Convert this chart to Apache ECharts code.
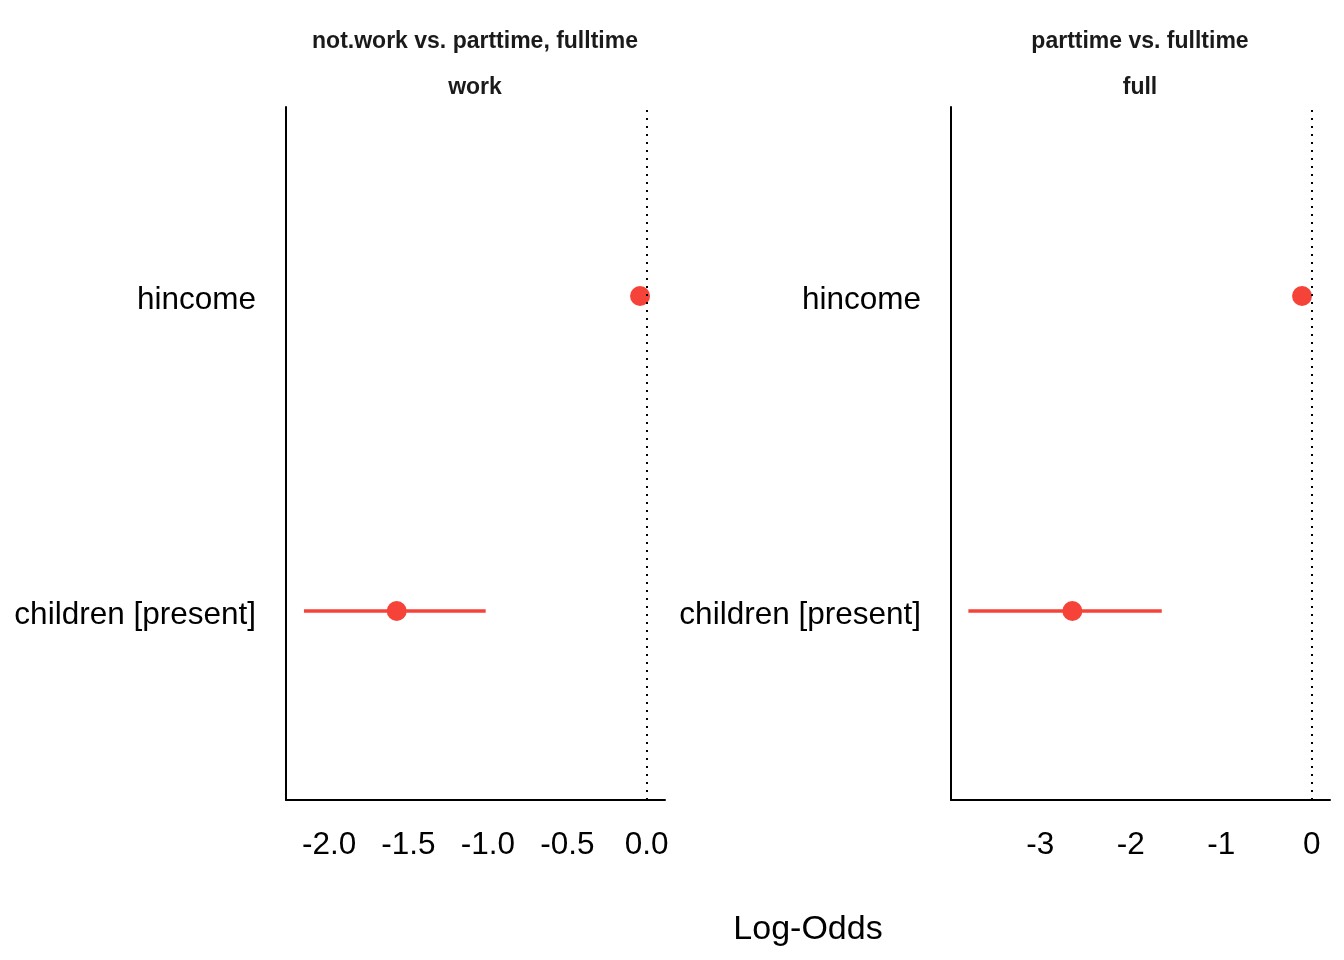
<!DOCTYPE html>
<html>
<head>
<meta charset="utf-8">
<script src="https://cdn.jsdelivr.net/npm/echarts@6/dist/echarts.min.js"></script>
<style>
html,body{margin:0;padding:0;background:#fff;}
#chart{width:1344px;height:960px;}
</style>
</head>
<body>
<div id="chart"></div>
<script>
// terms, bottom to top
var terms = ['children [present]', 'hincome'];
var panelTitles = ['not.work vs. parttime, fulltime', 'parttime vs. fulltime'];
var panelSubs = ['work', 'full'];
// log-odds estimates and 95% CI per panel
var estLeft = [-1.574, -0.042];
var lowLeft = [-2.158, -0.06];
var highLeft = [-1.014, -0.024];
var estRight = [-2.645, -0.107];
var lowRight = [-3.794, -0.13];
var highRight = [-1.657, -0.085];
var ticksLeft = [-2.0, -1.5, -1.0, -0.5, 0.0];
var ticksRight = [-3, -2, -1, 0];

var red = '#F5433A';
var font = 'Liberation Sans, Arial, sans-serif';
var myChart = echarts.init(document.getElementById('chart'));

function ciSeries(idx, low, high){
	return {
		type:'custom',
		xAxisIndex:idx, yAxisIndex:idx,
		data:terms.map(function(t,i){ return [low[i], high[i], i+1]; }),
		renderItem:function(params, api){
			var a = api.coord([api.value(0), api.value(2)]);
			var b = api.coord([api.value(1), api.value(2)]);
			return {type:'line', shape:{x1:a[0], y1:a[1], x2:b[0], y2:b[1]},
				style:{stroke:red, lineWidth:3.5}};
		},
		z:2
	};
}
function pointSeries(idx, est){
	return {
		type:'scatter',
		xAxisIndex:idx, yAxisIndex:idx,
		symbolSize:20,
		itemStyle:{color:red, opacity:1},
		data:terms.map(function(t,i){ return [est[i], i+1]; }),
		markLine:{
			silent:true, symbol:'none', animation:false,
			label:{show:false},
			lineStyle:{color:'#000', type:[2,6], width:2},
			data:[{xAxis:0}]
		},
		z:3
	};
}
function xAxis(idx, min, max, ticks, dec){
	return {
		type:'value', gridIndex:idx, min:min, max:max,
		splitLine:{show:false},
		axisLine:{show:true, onZero:false, lineStyle:{color:'#000', width:2}},
		axisTick:{show:false},
		axisLabel:{customValues:ticks, margin:29, color:'#000', fontSize:31.5, fontFamily:font,
			formatter:function(v){ return dec ? v.toFixed(1) : String(v); }}
	};
}
function yAxis(idx){
	return {
		type:'value', gridIndex:idx, min:0.4, max:2.6,
		splitLine:{show:false},
		axisLine:{show:true, onZero:false, lineStyle:{color:'#000', width:2}},
		axisTick:{show:false},
		axisLabel:{customValues:[1,2], margin:30, color:'#000', fontSize:31.5, fontFamily:font,
			formatter:function(v){ return '{t|' + terms[Math.round(v)-1] + '}'; },
			rich:{t:{fontSize:31.5, fontFamily:font, color:'#000', padding:[8,0,0,0]}}}
	};
}
function titleAt(text, x, y, size, weight, color){
	return {text:text, left:x, top:y, textAlign:'center', padding:0,
		textStyle:{fontSize:size, fontWeight:weight, color:color, fontFamily:font}};
}

option = {
	animation:false,
	backgroundColor:'#fff',
	title:[
		titleAt(panelTitles[0], 475, 30, 23, 'bold', '#1a1a1a'),
		titleAt(panelSubs[0], 475, 76, 23, 'bold', '#1a1a1a'),
		titleAt(panelTitles[1], 1140, 30, 23, 'bold', '#1a1a1a'),
		titleAt(panelSubs[1], 1140, 76, 23, 'bold', '#1a1a1a'),
		titleAt('Log-Odds', 808, 913, 34, 'normal', '#000')
	],
	grid:[
		{left:286, width:379, top:107, height:693},
		{left:951, width:379, top:107, height:693}
	],
	xAxis:[
		xAxis(0, -2.271, 0.115, ticksLeft, true),
		xAxis(1, -3.986, 0.202, ticksRight, false)
	],
	yAxis:[yAxis(0), yAxis(1)],
	series:[
		ciSeries(0, lowLeft, highLeft),
		pointSeries(0, estLeft),
		ciSeries(1, lowRight, highRight),
		pointSeries(1, estRight)
	]
};
myChart.setOption(option);
</script>
</body>
</html>
